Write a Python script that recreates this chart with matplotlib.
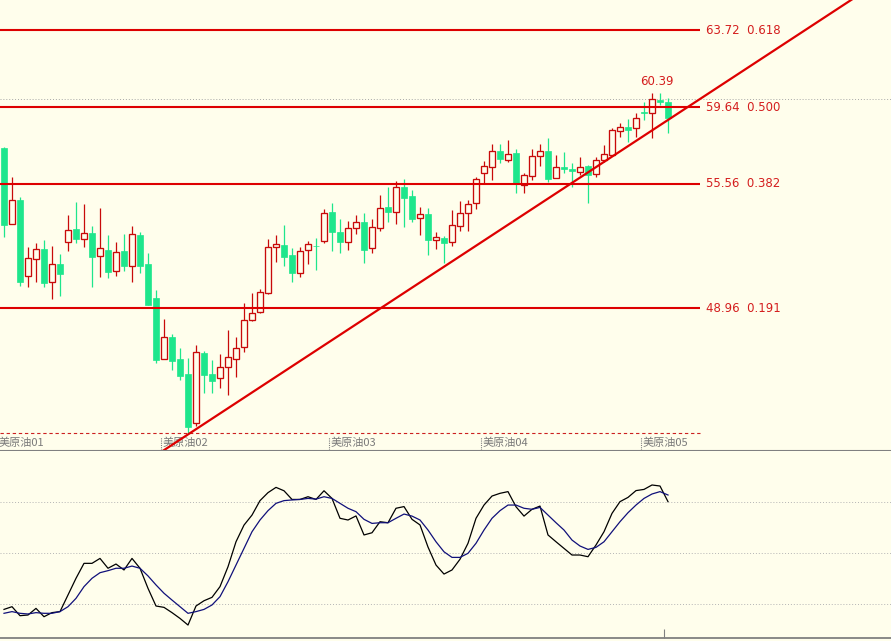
import numpy as np
import matplotlib
matplotlib.use('Agg')
import matplotlib.pyplot as plt

# ---------------- data ----------------
opens = [57.45, 53.42, 54.71, 50.67, 51.56, 52.11, 50.34, 51.31, 52.46, 53.17,
         52.62, 52.97, 51.75, 52.06, 50.94, 52.00, 51.22, 52.85, 51.31, 49.49,
         46.28, 47.42, 46.27, 45.47, 42.85, 46.57, 45.47, 45.24, 45.82, 46.25,
         46.89, 48.34, 48.75, 49.79, 52.20, 52.32, 51.79, 50.82, 52.06, 52.27,
         52.55, 54.06, 53.00, 52.46, 53.21, 53.56, 52.14, 53.24, 54.32, 54.06,
         55.38, 54.92, 53.74, 53.97, 52.59, 52.71, 52.50, 53.33, 54.00, 54.54,
         56.16, 56.45, 57.30, 56.84, 57.22, 55.50, 55.99, 57.05, 57.30, 55.86,
         56.48, 56.34, 56.21, 56.52, 56.09, 56.84, 57.10, 58.39, 58.57, 58.52,
         59.40, 59.35, 60.02, 59.93]
highs = [57.50, 55.95, 54.89, 52.23, 52.41, 52.59, 52.27, 51.84, 53.91, 54.62,
         54.50, 53.33, 54.27, 52.85, 52.46, 52.90, 53.33, 53.01, 51.88, 49.93,
         48.39, 47.59, 46.84, 46.30, 47.01, 46.69, 46.21, 46.53, 47.81, 47.45,
         49.22, 49.79, 49.97, 52.62, 52.85, 53.38, 52.14, 52.23, 52.55, 52.68,
         54.22, 54.57, 53.69, 53.61, 53.91, 54.00, 53.70, 54.97, 55.42, 55.74,
         55.81, 55.24, 54.32, 54.27, 53.03, 52.80, 54.18, 54.67, 54.71, 55.95,
         56.80, 57.68, 57.68, 57.90, 57.40, 56.16, 57.40, 57.68, 57.99, 57.10,
         57.28, 56.66, 57.01, 56.57, 56.98, 57.63, 58.52, 58.78, 59.00, 59.31,
         59.93, 60.39, 60.38, 60.11]
lows = [52.76, 53.42, 50.16, 50.11, 50.37, 50.07, 49.44, 49.63, 52.02, 52.41,
        52.20, 50.07, 50.61, 50.55, 50.69, 50.96, 50.37, 50.85, 49.13, 46.04,
        46.28, 45.68, 45.15, 42.36, 42.70, 44.44, 44.44, 44.71, 44.36, 45.33,
        46.65, 48.30, 48.69, 49.72, 51.40, 51.21, 50.37, 50.64, 51.30, 51.00,
        52.41, 52.02, 51.88, 52.06, 52.91, 51.35, 51.88, 53.08, 53.56, 53.42,
        53.29, 53.53, 52.85, 51.79, 52.09, 51.35, 52.27, 53.08, 53.08, 54.23,
        55.63, 55.77, 56.66, 56.75, 55.10, 55.07, 55.77, 56.52, 55.68, 55.86,
        56.13, 55.42, 56.04, 54.54, 55.95, 56.75, 57.05, 58.07, 57.81, 58.07,
        58.96, 57.99, 59.77, 58.29]
closes = [53.38, 54.71, 50.37, 51.61, 52.09, 50.32, 51.30, 50.78, 53.12, 52.62,
          52.94, 51.70, 52.15, 50.90, 51.96, 51.22, 52.89, 51.22, 49.13, 46.21,
          47.42, 46.18, 45.38, 42.67, 46.62, 45.42, 45.11, 45.82, 46.36, 46.83,
          48.34, 48.73, 49.81, 52.20, 52.37, 51.70, 50.82, 52.02, 52.36, 52.24,
          54.00, 53.00, 52.46, 53.21, 53.56, 52.06, 53.26, 54.27, 54.06, 55.38,
          54.83, 53.70, 53.95, 52.59, 52.76, 52.44, 53.38, 54.00, 54.50, 55.81,
          56.52, 57.30, 56.87, 57.15, 55.54, 56.04, 57.05, 57.30, 55.81, 56.48,
          56.34, 56.24, 56.45, 56.04, 56.84, 57.15, 58.43, 58.57, 58.43, 59.05,
          59.32, 60.06, 59.93, 59.05]

k_values = [17.0, 18.6, 13.3, 13.7, 17.6, 12.7, 15.1, 15.7, 25.5, 35.3,
            44.1, 44.1, 47.0, 41.2, 43.7, 40.2, 47.0, 41.2, 29.4, 19.0,
            18.2, 15.1, 11.7, 7.8, 19.0, 22.1, 24.1, 30.4, 42.1, 56.8,
            66.6, 72.5, 81.0, 85.7, 88.8, 86.8, 81.7, 81.7, 83.3, 81.7,
            86.8, 82.3, 70.6, 69.6, 72.0, 60.8, 62.1, 68.6, 68.0, 76.5,
            77.5, 70.0, 66.7, 53.7, 43.1, 37.8, 40.2, 46.5, 55.9, 70.6,
            78.4, 83.7, 85.3, 86.3, 77.4, 71.9, 75.9, 77.8, 60.8, 56.8,
            52.9, 49.0, 49.0, 48.0, 54.9, 62.7, 73.5, 80.4, 82.9, 86.9,
            87.6, 90.2, 89.6, 80.4]
d_values = [14.7, 15.7, 14.7, 14.3, 15.1, 14.7, 14.7, 15.7, 18.6, 23.5,
            30.4, 35.3, 38.6, 39.8, 41.2, 41.2, 42.5, 41.2, 36.7, 31.4,
            26.5, 22.5, 18.6, 14.7, 15.7, 17.0, 19.6, 24.5, 33.3, 43.1,
            52.9, 62.7, 69.6, 75.1, 79.4, 81.0, 81.4, 81.7, 82.3, 81.9,
            83.3, 82.3, 79.4, 76.5, 74.5, 70.0, 67.6, 68.0, 68.0, 70.6,
            73.1, 71.9, 69.6, 63.7, 56.8, 50.9, 47.6, 47.6, 50.0, 55.9,
            63.7, 70.6, 75.1, 78.4, 78.4, 76.5, 75.9, 77.0, 72.5, 68.0,
            63.7, 57.8, 54.3, 52.3, 53.5, 56.8, 62.7, 68.6, 73.9, 78.4,
            82.3, 84.9, 86.3, 84.3]

fib_ratios = [0.191, 0.382, 0.5, 0.618]
fib_prices = [48.96, 55.56, 59.64, 63.72]
fib_base = 42.36
last_price = 60.06
high_label = 60.39
month_labels = ['美原油01', '美原油02', '美原油03', '美原油04', '美原油05']
month_starts = [-0.5, 20, 41, 60, 80]
trend_anchor_x = [23, 83]
trend_anchor_y = [42.26, 58.96]
stoch_levels = [20, 50, 80]

# ---------------- style ----------------
BG = '#fffeec'
RED = '#dd0000'
CANDLE_RED = '#c80a0a'
GREEN = '#1ee68c'
GRAY = '#808080'
TXT_RED = '#d41e1e'

fig = plt.figure(figsize=(8.91, 6.41), dpi=100, facecolor=BG)
ax = fig.add_axes([0, 190 / 641, 1, 451 / 641])
ax2 = fig.add_axes([0, 0, 1, 190 / 641])
for a in (ax, ax2):
    a.set_facecolor(BG)
    a.set_xticks([])
    a.set_yticks([])
    for s in a.spines.values():
        s.set_visible(False)
    a.set_xlim(-0.5, 110.875)
ax.set_ylim(41.38, 65.33)
ax2.set_ylim(-1.59, 110.2)

n = len(opens)
x = np.arange(n)
o = np.array(opens); h = np.array(highs); l = np.array(lows); c = np.array(closes)
up = c >= o
body_lo = np.minimum(o, c)
body_hi = np.maximum(o, c)
body_h = np.maximum(body_hi - body_lo, 0.04)
W = 0.8

# wicks
ax.vlines(x[up], l[up], h[up], colors=CANDLE_RED, lw=0.9, zorder=3)
ax.vlines(x[~up], l[~up], h[~up], colors=GREEN, lw=0.9, zorder=3)
# bodies
ax.bar(x[up], body_h[up], bottom=body_lo[up], width=W, facecolor=BG,
       edgecolor=CANDLE_RED, linewidth=0.95, zorder=4)
ax.bar(x[~up], body_h[~up], bottom=body_lo[~up], width=W, facecolor=GREEN,
       edgecolor=GREEN, linewidth=0.5, zorder=4)

# fibonacci levels
ax.hlines(fib_prices, -0.5, 87, colors=RED, lw=1.5, zorder=5)
ax.hlines(fib_base, -0.5, 87, colors='#cc2020', lw=0.8,
          linestyles=(0, (3, 2.5)), zorder=2)
for p, r in zip(fib_prices, fib_ratios):
    ax.annotate(f'{p:.2f}  {r:.3f}', xy=(87, p), xytext=(4.3, 0),
                textcoords='offset points', ha='left', va='center',
                fontsize=8.5, color=TXT_RED)

# last price dotted line
ax.axhline(last_price, color='#a8a8a8', lw=0.7, ls=(0, (1, 2)), zorder=1)

# high label
ax.annotate(f'{high_label:.2f}', xy=(81, high_label), xytext=(3.5, 8),
            textcoords='offset points', ha='center', va='center',
            fontsize=8.5, color=TXT_RED)

# trendline
slope = (trend_anchor_y[1] - trend_anchor_y[0]) / (trend_anchor_x[1] - trend_anchor_x[0])
tx = np.array([18.0, 115.0])
ty = trend_anchor_y[0] + slope * (tx - trend_anchor_x[0])
ax.plot(tx, ty, color=RED, lw=1.6, zorder=7)

# month labels
xt = ax.get_xaxis_transform()
for m, lbl in zip(month_starts, month_labels):
    px = m - 0.4
    ax.vlines(px, 0.003, 0.03, transform=xt, colors=GRAY, lw=0.8,
              linestyles=(0, (1, 1)), zorder=6)
    ax.annotate(lbl, xy=(px, 0.018), xycoords=xt, xytext=(1.2, 0),
                textcoords='offset points', ha='left', va='center',
                fontsize=8, color='#7a7a7a',
                family=['Noto Sans CJK SC', 'DejaVu Sans'], zorder=6)

# separator line
ax.plot([0, 1], [0.0, 0.0], transform=ax.transAxes, color=GRAY, lw=1.5,
        clip_on=False, zorder=8)

# stochastic panel
ax2.hlines(stoch_levels, -0.5, 111, colors='#b4b4b4', lw=0.7,
           linestyles=(0, (1, 2)), zorder=1)
ax2.plot(x, k_values, color='black', lw=0.9, zorder=3)
ax2.plot(x, d_values, color='#10107a', lw=0.9, zorder=3)
ax2.axhline(0, color=GRAY, lw=1.3, zorder=2)
ax2.vlines(82.5, 0, 5.5, colors=GRAY, lw=0.8)

fig.savefig('out.png', dpi=100, facecolor=BG)
